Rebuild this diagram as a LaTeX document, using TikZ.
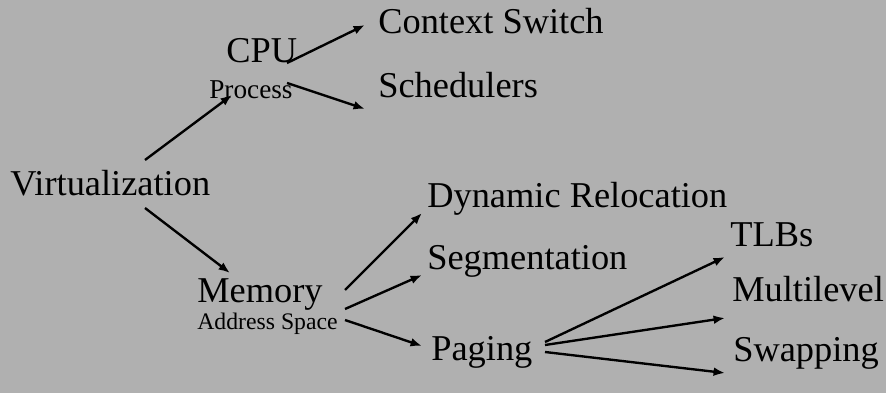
\documentclass[tikz,border=0pt]{standalone}
\usepackage{fontspec}
\setmainfont{Liberation Serif}
\usetikzlibrary{arrows.meta}

\definecolor{slidebg}{RGB}{176,176,176}

\tikzset{
  topic/.style={font=\fontsize{20.7}{24}\selectfont, anchor=base west, inner sep=0pt},
  subtopic/.style={font=\fontsize{15.5}{18}\selectfont, anchor=base west, inner sep=0pt},
  note/.style={font=\fontsize{13.5}{16}\selectfont, anchor=base west, inner sep=0pt},
  link/.style={-{Latex[length=6.5pt,width=5pt]}, line width=1.35pt}
}

\begin{document}
\begin{tikzpicture}[x=0.02cm, y=0.02cm]

% Background
\fill[slidebg] (0,0) rectangle (886,393);
\useasboundingbox (0,0) rectangle (886,393);

% Root
\node[topic] (virt) at (10,198) {Virtualization};

% CPU branch
\node[topic] (cpu) at (226,331) {CPU};
\node[subtopic] (proc) at (209,295) {Process};
\node[topic] (ctx) at (378,359) {Context Switch};
\node[topic] (sched) at (378,296) {Schedulers};

% Memory branch
\node[topic] (mem) at (197,91) {Memory};
\node[note] (addr) at (197,64) {Address Space};
\node[topic] (dyn) at (427,186) {Dynamic Relocation};
\node[topic] (seg) at (427,124) {Segmentation};
\node[topic] (pag) at (431,33) {Paging};

% Paging details
\node[topic] (tlb) at (730,147) {TLBs};
\node[topic] (multi) at (732,92) {Multilevel};
\node[topic] (swap) at (733,32) {Swapping};

% Arrows
\draw[link] ([shift={(135,35)}]virt.base west) -- ([shift={(23,3)}]proc.base west);
\draw[link] ([shift={(135,-13)}]virt.base west) -- ([shift={(33,29)}]mem.base west);

\draw[link] ([shift={(61,-1)}]cpu.base west) -- ([shift={(-13,9)}]ctx.base west);
\draw[link] ([shift={(61,-21)}]cpu.base west) -- ([shift={(-13,-12)}]sched.base west);

\draw[link] ([shift={(148,12)}]mem.base west) -- ([shift={(-5,-6)}]dyn.base west);
\draw[link] ([shift={(148,-7)}]mem.base west) -- ([shift={(-5,-6)}]seg.base west);
\draw[link] ([shift={(148,-18)}]mem.base west) -- ([shift={(-9,14)}]pag.base west);

\draw[link] ([shift={(114,18)}]pag.base west) -- ([shift={(-5,-11)}]tlb.base west);
\draw[link] ([shift={(114,15)}]pag.base west) -- ([shift={(-7,-17)}]multi.base west);
\draw[link] ([shift={(114,8)}]pag.base west) -- ([shift={(-8,-12)}]swap.base west);

\end{tikzpicture}
\end{document}
